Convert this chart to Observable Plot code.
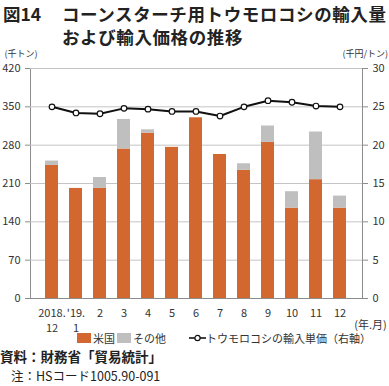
<!DOCTYPE html>
<html><head><meta charset="utf-8">
<script src="https://cdn.jsdelivr.net/npm/d3@7"></script>
<script src="https://cdn.jsdelivr.net/npm/@observablehq/plot@0.6"></script>
<style>
body{margin:0;background:#fff;font-family:"Noto Sans CJK JP","Noto Sans",sans-serif;color:#222}
#wrap{position:relative;width:389px;height:386px;overflow:hidden}
.abs{position:absolute;white-space:nowrap}
.tt{font-size:17.5px;font-weight:bold;line-height:23px}
#t1a{left:3px;top:2px}
#t1b{left:62px;top:2px;letter-spacing:0.6px}
#t2{left:62px;top:25px;letter-spacing:0.6px}
#chart{left:0;top:44px}
#legend{left:0;top:331px;font-size:11px;line-height:14px;color:#333}
.sw{position:absolute;top:2px;width:14px;height:10px}
#src{left:0;top:347px;font-size:13.5px;font-weight:bold;line-height:18px}
#note{left:11px;top:367px;font-size:12.5px;line-height:18px}
</style></head>
<body><div id="wrap">
<div id="t1a" class="abs tt">図14</div>
<div id="t1b" class="abs tt">コーンスターチ用トウモロコシの輸入量</div>
<div id="t2" class="abs tt">および輸入価格の推移</div>
<div id="chart" class="abs"></div>
<div id="legend" class="abs" style="width:389px;height:16px">
  <div class="sw" style="left:77px;background:#D2672F"></div>
  <div class="abs" style="left:93px;top:0">米国</div>
  <div class="sw" style="left:117px;background:#BFBFBF"></div>
  <div class="abs" style="left:133px;top:0">その他</div>
  <svg class="abs" style="left:189px;top:1px" width="17" height="12"><line x1="0" y1="6" x2="17" y2="6" stroke="#111" stroke-width="1.6"/><circle cx="8.5" cy="6" r="2.6" fill="#fff" stroke="#111" stroke-width="1.2"/></svg>
  <div class="abs" style="left:206px;top:0">トウモロコシの輸入単価（右軸）</div>
</div>
<div id="src" class="abs">資料：財務省「貿易統計」</div>
<div id="note" class="abs">注：HSコード1005.90-091</div>
</div>
<script>
const months = ["2018.\n12","'19.\n1","2","3","4","5","6","7","8","9","10","11","12"];
const usa   = [243,201,201,273,302,276,330,263,234,285,165,217,165];
const other = [8,0,20,54,6,0,0,0,12,30,30,87,22];
const price = [25.0,24.2,24.1,24.8,24.7,24.4,24.4,23.8,25.0,25.8,25.6,25.1,25.0];
const leftTicks = [0,70,140,210,280,350,420];
const kinds = ["米国","その他"];
const ratio = 420/30;

const table = [];
months.forEach((m,i)=>{
  table.push({month:m, kind:kinds[0], value:usa[i]});
  table.push({month:m, kind:kinds[1], value:other[i]});
});
const line = months.map((m,i)=>({month:m, p:price[i]}));

const chart = Plot.plot({
  width:389, height:298,
  marginLeft:30, marginRight:27, marginTop:24, marginBottom:44,
  style:{fontFamily:'"Noto Sans CJK JP","Noto Sans",sans-serif', fontSize:"11px", color:"#333", background:"transparent"},
  x:{domain:months, padding:0.45},
  y:{domain:[0,420]},
  color:{domain:kinds, range:["#D2672F","#BFBFBF"]},
  marks:[
    Plot.frame({stroke:"#8c8c8c"}),
    Plot.gridY(leftTicks.filter(d=>d>0), {stroke:"#c4c4c4", strokeOpacity:1}),
    Plot.barY(table, {x:"month", y:"value", fill:"kind"}),
    Plot.ruleY([0], {stroke:"#8c8c8c"}),
    Plot.axisY({anchor:"left", ticks:leftTicks, tickSize:5, tickPadding:5, label:null, stroke:"#8c8c8c"}),
    Plot.axisY({anchor:"right", ticks:leftTicks, tickFormat:d=>d/ratio, tickSize:5, tickPadding:5, label:null, stroke:"#8c8c8c"}),
    Plot.axisX({tickSize:0, tickPadding:8, label:null, lineHeight:1.35, fontSize:11}),
    Plot.lineY(line, {x:"month", y:d=>d.p*ratio, stroke:"#111", strokeWidth:2}),
    Plot.dot(line, {x:"month", y:d=>d.p*ratio, r:2.8, fill:"#fff", stroke:"#111", strokeWidth:1.2}),
    Plot.text(["(千トン)"], {frameAnchor:"top-left", dx:-26, dy:-14, textAnchor:"start", lineAnchor:"middle", fontSize:9}),
    Plot.text(["(千円/トン)"], {frameAnchor:"top-right", dx:-20, dy:-14, textAnchor:"start", lineAnchor:"middle", fontSize:9}),
    Plot.text(["(年.月)"], {frameAnchor:"bottom-right", dx:8, dy:27, textAnchor:"middle", lineAnchor:"middle", fontSize:11})
  ]
});
document.getElementById("chart").appendChild(chart);
</script>
</body></html>
